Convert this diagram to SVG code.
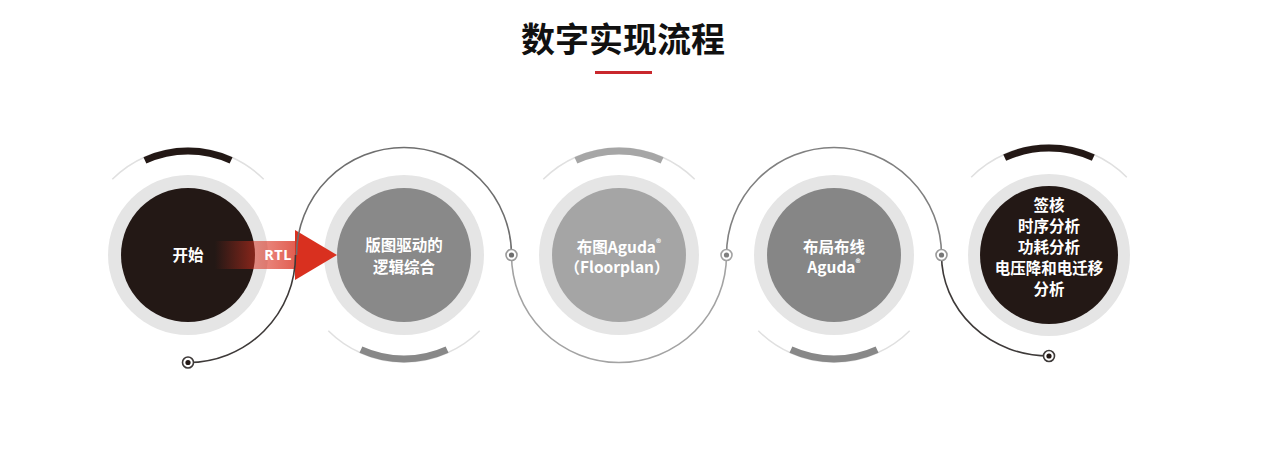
<svg xmlns="http://www.w3.org/2000/svg" width="1269" height="461" viewBox="0 0 1269 461">
<defs>
<style>
.ring{fill:#e5e5e5}
.thin{fill:none;stroke:#e0e0e0;stroke-width:1.5}
.thick{fill:none;stroke-width:7}
.lbl{font-family:"Noto Sans CJK SC","Noto Sans",sans-serif;font-weight:700;font-size:15.5px;fill:#ffffff;text-anchor:middle}
.conn{fill:none;stroke-width:1.6}
.dot{fill:#ffffff;stroke-width:1.6}
</style>
<linearGradient id="rtlGrad" gradientUnits="userSpaceOnUse" x1="215" y1="0" x2="296" y2="0">
<stop offset="0" stop-color="#d9301f" stop-opacity="0"/>
<stop offset="0.45" stop-color="#d9301f" stop-opacity="0.5"/>
<stop offset="1" stop-color="#d9301f" stop-opacity="0.78"/>
</linearGradient>
</defs>
<rect width="1269" height="461" fill="#ffffff"/>

<g id="title">
<text x="623" y="51.5" font-family="Noto Sans CJK SC,Noto Sans,sans-serif" font-weight="700" font-size="34" fill="#111111" text-anchor="middle">数字实现流程</text>
<rect x="595" y="71" width="57" height="3" fill="#c9282d"/>
</g>

<g id="node-start">
<path class="thin" d="M112.3,179.3 A107,107 0 0 1 263.7,179.3"/>
<path class="thick" stroke="#231815" d="M144.9,160.4 A104,104 0 0 1 231.1,160.4"/>
<circle class="ring" cx="188" cy="255" r="80"/>
<circle cx="188" cy="255" r="67" fill="#231815"/>
<text class="lbl" x="188" y="261">开始</text>
</g>

<g id="node-synthesis">
<path class="thin" d="M328.3,330.7 A107,107 0 0 0 479.7,330.7"/>
<path class="thick" stroke="#888888" d="M360.9,349.6 A104,104 0 0 0 447.1,349.6"/>
<circle class="ring" cx="404" cy="255" r="80"/>
<circle cx="404" cy="255" r="67" fill="#898989"/>
<text class="lbl" x="404" y="250.5">版图驱动的</text>
<text class="lbl" x="404" y="272.5">逻辑综合</text>
</g>

<g id="node-floorplan">
<path class="thin" d="M543.3,179.3 A107,107 0 0 1 694.7,179.3"/>
<path class="thick" stroke="#a6a6a6" d="M575.9,160.4 A104,104 0 0 1 662.1,160.4"/>
<circle class="ring" cx="619" cy="255" r="80"/>
<circle cx="619" cy="255" r="67" fill="#a5a5a5"/>
<text class="lbl" x="619" y="252.5">布图Aguda<tspan font-size="10" dy="-6">®</tspan></text>
<text class="lbl" x="617" y="273">（Floorplan）</text>
</g>

<g id="node-pnr">
<path class="thin" d="M758.3,330.7 A107,107 0 0 0 909.7,330.7"/>
<path class="thick" stroke="#888888" d="M790.9,349.6 A104,104 0 0 0 877.1,349.6"/>
<circle class="ring" cx="834" cy="255" r="80"/>
<circle cx="834" cy="255" r="67" fill="#868686"/>
<text class="lbl" x="834" y="252.5">布局布线</text>
<text class="lbl" x="834" y="273">Aguda<tspan font-size="10" dy="-6">®</tspan></text>
</g>

<g id="node-signoff">
<path class="thin" d="M971.2,177.2 A110,110 0 0 1 1126.8,177.2"/>
<path class="thick" stroke="#231815" d="M1004.7,157.6 A107,107 0 0 1 1093.3,157.6"/>
<circle class="ring" cx="1049" cy="255" r="81"/>
<circle cx="1049" cy="255" r="69" fill="#231815"/>
<text class="lbl" x="1049" y="211">签核</text>
<text class="lbl" x="1049" y="232">时序分析</text>
<text class="lbl" x="1049" y="253">功耗分析</text>
<text class="lbl" x="1049" y="274">电压降和电迁移</text>
<text class="lbl" x="1049" y="295">分析</text>
</g>

<g id="rtl-arrow">
<rect x="215" y="241" width="81" height="28" fill="url(#rtlGrad)"/>
<polygon points="295,230 337,255 295,280" fill="#d9301f"/>
<text x="278" y="260" font-family="Noto Sans,Liberation Sans,sans-serif" font-weight="700" font-size="14.5" letter-spacing="0.5" fill="#ffffff" text-anchor="middle">RTL</text>
</g>

<g id="connectors">
<path class="conn" stroke="#3e3a39" d="M188,362.5 A107.5,107.5 0 0 0 295.5,255"/>
<path class="conn" stroke="#6e6e6e" d="M296.5,255 A107.5,107.5 0 0 1 511.5,255"/>
<path class="conn" stroke="#a3a3a3" d="M511.5,255 A107.5,107.5 0 0 0 726.5,255"/>
<path class="conn" stroke="#808080" d="M726.5,255 A107.5,107.5 0 0 1 941.5,255"/>
<path class="conn" stroke="#3e3a39" d="M941.5,255 A107.5,101 0 0 0 1049,356"/>
<circle class="dot" stroke="#3e3a39" cx="188" cy="362.5" r="5.5"/>
<circle cx="188" cy="362.5" r="2.6" fill="#231815"/>
<circle class="dot" stroke="#9a9a9a" cx="511.5" cy="255" r="5.5"/>
<circle cx="511.5" cy="255" r="2.6" fill="#6e6e6e"/>
<circle class="dot" stroke="#a3a3a3" cx="726.5" cy="255" r="5.5"/>
<circle cx="726.5" cy="255" r="2.6" fill="#808080"/>
<circle class="dot" stroke="#9a9a9a" cx="941.5" cy="255" r="5.5"/>
<circle cx="941.5" cy="255" r="2.6" fill="#777777"/>
<circle class="dot" stroke="#3e3a39" cx="1049" cy="356" r="5.5"/>
<circle cx="1049" cy="356" r="2.6" fill="#231815"/>
</g>
</svg>
